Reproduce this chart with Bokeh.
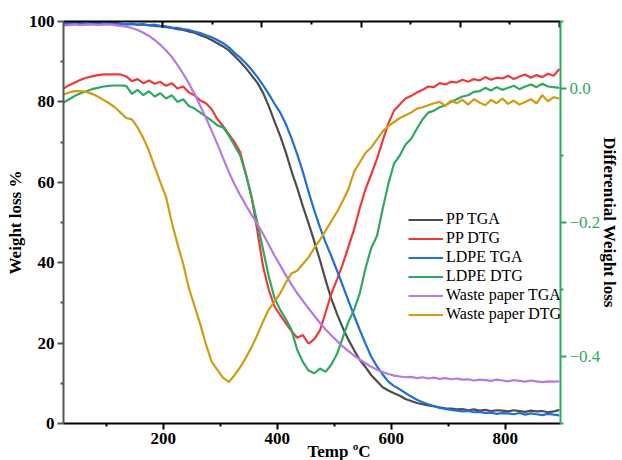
from bokeh.plotting import figure
from bokeh.models import Range1d, LinearAxis, FixedTicker, Legend, LegendItem, Title
from bokeh.embed import file_html
from bokeh.resources import INLINE

temps = list(range(25, 900, 10))

pp_tga = [99.5, 99.4, 99.6, 99.5, 99.3, 99.5, 99.6, 99.4, 99.5, 99.6,
          99.4, 99.3, 99.4, 99.2, 99.3, 99.0, 98.9, 98.8, 98.6, 98.4,
          98.1, 97.9, 97.5, 97.2, 96.6, 96.1, 95.4, 94.6, 93.8, 92.8,
          91.4, 90.0, 88.4, 86.6, 84.8, 82.3, 79.0, 75.2, 71.6, 67.5,
          62.8, 58.6, 54.0, 49.8, 45.3, 40.6, 35.6, 31.0, 27.2, 23.8,
          20.8, 18.2, 15.8, 14.0, 12.0, 10.5, 9.0, 8.2, 7.5, 6.9,
          6.1, 5.6, 5.1, 4.8, 4.5, 4.3, 4.0, 3.8, 3.7, 3.5,
          3.6, 3.3, 3.5, 3.2, 3.4, 3.1, 3.3, 3.2, 3.0, 3.3,
          3.1, 2.9, 3.2, 3.0, 3.1, 2.8, 3.0, 3.4]

ldpe_tga = [99.6, 99.5, 99.7, 99.6, 99.5, 99.7, 99.6, 99.5, 99.6, 99.4,
            99.5, 99.3, 99.4, 99.2, 99.3, 99.1, 99.2, 98.9, 98.8, 98.5,
            98.4, 98.1, 97.9, 97.5, 97.1, 96.6, 96.1, 95.4, 94.6, 93.6,
            92.2, 91.0, 89.6, 88.0, 86.2, 84.2, 82.0, 79.6, 77.4, 74.5,
            71.0, 67.0, 62.6, 57.6, 53.0, 48.8, 45.0, 41.6, 38.0, 34.3,
            30.5, 26.8, 23.2, 19.8, 16.6, 14.2, 12.2, 10.4, 9.3, 8.5,
            7.6, 6.7, 5.9, 5.3, 4.8, 4.3, 3.9, 3.6, 3.4, 3.2,
            3.0, 3.1, 2.8, 2.9, 2.6, 2.7, 2.4, 2.6, 2.5, 2.3,
            2.6, 2.2, 2.5, 2.3, 2.1, 2.4, 2.2, 2.0]

paper_tga = [99.0, 99.1, 99.3, 99.1, 99.2, 99.3, 99.1, 99.2, 99.3, 99.1,
             98.9, 98.7, 98.4, 97.9, 97.2, 96.4, 95.4, 94.2, 92.8, 91.2,
             89.2, 87.0, 84.6, 82.0, 79.0, 76.0, 72.8, 69.5, 66.0, 62.6,
             59.5, 56.8, 54.3, 51.9, 49.6, 47.2, 44.5, 41.8, 39.4, 36.9,
             34.6, 32.4, 30.5, 28.6, 26.8, 25.0, 23.4, 21.9, 20.5, 19.2,
             18.0, 16.9, 15.9, 15.0, 14.1, 13.4, 12.8, 12.3, 11.9, 11.7,
             11.5, 11.6, 11.3, 11.5, 11.2, 11.4, 11.1, 11.3, 11.0, 11.2,
             10.9, 11.0, 10.7, 10.9, 10.8, 10.6, 10.9, 10.7, 10.5, 10.8,
             10.6, 10.4, 10.7, 10.5, 10.3, 10.5, 10.4, 10.5]

pp_dtg = [0.000, 0.005, 0.009, 0.013, 0.016, 0.018, 0.020, 0.021, 0.021, 0.021,
          0.021, 0.018, 0.011, 0.014, 0.008, 0.012, 0.007, 0.010, 0.004, 0.008,
          0.000, 0.003, -0.006, -0.010, -0.018, -0.022, -0.031, -0.046, -0.056, -0.068,
          -0.080, -0.095, -0.128, -0.162, -0.212, -0.265, -0.300, -0.325, -0.338, -0.350,
          -0.362, -0.372, -0.368, -0.381, -0.374, -0.361, -0.334, -0.306, -0.285, -0.262,
          -0.236, -0.210, -0.178, -0.150, -0.128, -0.105, -0.078, -0.052, -0.033, -0.024,
          -0.015, -0.011, -0.006, -0.002, 0.003, 0.002, 0.008, 0.006, 0.010, 0.009,
          0.013, 0.010, 0.014, 0.012, 0.017, 0.013, 0.016, 0.015, 0.019, 0.014,
          0.018, 0.021, 0.016, 0.020, 0.017, 0.022, 0.019, 0.029]

ldpe_dtg = [-0.021, -0.016, -0.011, -0.007, -0.004, -0.001, 0.001, 0.003, 0.004, 0.0045,
            0.0045, 0.004, -0.008, -0.002, -0.010, -0.004, -0.012, -0.007, -0.015, -0.010,
            -0.020, -0.016, -0.026, -0.030, -0.036, -0.042, -0.048, -0.055, -0.058, -0.070,
            -0.085, -0.100, -0.128, -0.162, -0.200, -0.240, -0.280, -0.312, -0.330, -0.344,
            -0.360, -0.390, -0.408, -0.421, -0.425, -0.418, -0.423, -0.412, -0.396, -0.372,
            -0.348, -0.330, -0.305, -0.268, -0.238, -0.220, -0.180, -0.142, -0.112, -0.100,
            -0.084, -0.075, -0.060, -0.046, -0.036, -0.033, -0.028, -0.025, -0.020, -0.016,
            -0.012, -0.010, -0.005, -0.004, 0.001, -0.003, 0.002, -0.002, 0.001, 0.004,
            -0.001, 0.003, 0.006, 0.002, 0.007, 0.003, 0.002, 0.001]

paper_dtg = [-0.009, -0.006, -0.004, -0.004, -0.005, -0.008, -0.012, -0.017, -0.022, -0.028,
             -0.036, -0.044, -0.046, -0.058, -0.074, -0.093, -0.117, -0.140, -0.162, -0.200,
             -0.232, -0.262, -0.298, -0.325, -0.352, -0.382, -0.408, -0.420, -0.432, -0.438,
             -0.428, -0.416, -0.402, -0.386, -0.368, -0.348, -0.330, -0.318, -0.306, -0.290,
             -0.276, -0.272, -0.262, -0.252, -0.238, -0.226, -0.212, -0.198, -0.184, -0.168,
             -0.150, -0.124, -0.110, -0.096, -0.088, -0.076, -0.064, -0.056, -0.050, -0.044,
             -0.040, -0.036, -0.030, -0.028, -0.025, -0.022, -0.020, -0.026, -0.018, -0.022,
             -0.017, -0.024, -0.016, -0.021, -0.025, -0.017, -0.022, -0.015, -0.023, -0.018,
             -0.024, -0.020, -0.016, -0.022, -0.010, -0.019, -0.013, -0.015]

names = ["PP TGA", "PP DTG", "LDPE TGA", "LDPE DTG", "Waste paper TGA", "Waste paper DTG"]
colors = ["#4d4d4d", "#f0393c", "#1f6fdc", "#2fa862", "#b57ae6", "#d19c10"]
series = [pp_tga, pp_dtg, ldpe_tga, ldpe_dtg, paper_tga, paper_dtg]
on_dtg = [False, True, False, True, False, True]

x_ticks = [200, 400, 600, 800]
x_minor = [100, 300, 500, 700]
y_ticks = [0, 20, 40, 60, 80, 100]
y_minor = [10, 30, 50, 70, 90]
r_ticks = [-0.4, -0.2, 0.0]
r_minor = [-0.5, -0.3, -0.1, 0.1]
r_labels = {-0.4: "\u22120.4", -0.2: "\u22120.2", 0: "0.0"}

FONT = "Liberation Serif"
GREEN = "#2fa862"

p = figure(width=622, height=460, x_range=Range1d(25, 897), y_range=Range1d(0, 100),
           output_backend="svg", toolbar_location=None,
           min_border_left=63, min_border_top=21, min_border_right=10, min_border_bottom=37)
p.extra_y_ranges = {"dtg": Range1d(-0.5, 0.1)}
p.extra_x_ranges = {"top": Range1d(0, 501)}
p.grid.visible = False
p.outline_line_color = None

# bottom axis
xa = p.xaxis[0]
xa.ticker = FixedTicker(ticks=x_ticks, minor_ticks=x_minor)
xa.major_tick_out = 6
xa.major_tick_in = 0
xa.minor_tick_out = 3
xa.minor_tick_in = 0
xa.major_label_standoff = 3
xa.axis_line_width = 2
xa.axis_line_color = "black"
xa.major_tick_line_width = 2
xa.minor_tick_line_width = 2

# left axis
ya = p.yaxis[0]
ya.ticker = FixedTicker(ticks=y_ticks, minor_ticks=y_minor)
ya.axis_label = "Weight loss %"
ya.axis_label_standoff = 1
ya.major_label_standoff = 3
ya.major_tick_out = 6
ya.major_tick_in = 0
ya.minor_tick_out = 3
ya.minor_tick_in = 0
ya.axis_line_width = 2
ya.axis_line_color = "#555555"
ya.major_tick_line_color = "#555555"
ya.minor_tick_line_color = "#555555"
ya.major_tick_line_width = 2
ya.minor_tick_line_width = 2

for ax in [xa, ya]:
    ax.major_label_text_font = FONT
    ax.major_label_text_font_style = "bold"
    ax.major_label_text_font_size = "17px"
    ax.major_label_text_color = "black"
    ax.axis_label_text_font = FONT
    ax.axis_label_text_font_style = "bold"
    ax.axis_label_text_font_size = "17px"
    ax.axis_label_text_color = "black"

# right axis
ra = LinearAxis(y_range_name="dtg",
                ticker=FixedTicker(ticks=r_ticks, minor_ticks=r_minor),
                axis_label="Differential Weight loss")
ra.major_label_overrides = r_labels
ra.axis_line_color = GREEN
ra.axis_line_width = 2
ra.major_tick_line_color = GREEN
ra.minor_tick_line_color = GREEN
ra.major_tick_line_width = 2
ra.minor_tick_line_width = 2
ra.major_tick_out = 6
ra.major_tick_in = 0
ra.minor_tick_out = 3
ra.minor_tick_in = 0
ra.major_label_standoff = 3
ra.major_label_text_font = FONT
ra.major_label_text_font_size = "17px"
ra.major_label_text_color = GREEN
ra.axis_label_text_font = FONT
ra.axis_label_text_font_style = "bold"
ra.axis_label_text_font_size = "17px"
ra.axis_label_text_color = "black"
ra.axis_label_standoff = -3
p.add_layout(ra, "right")

# top axis (ticks only)
ta = LinearAxis(x_range_name="top",
                ticker=FixedTicker(ticks=[100, 200, 300, 400, 500], minor_ticks=[150, 250, 350, 450]))
ta.major_label_overrides = {100: "", 200: "", 300: "", 400: "", 500: ""}
ta.major_label_standoff = 0
ta.axis_line_width = 2
ta.axis_line_color = "black"
ta.major_tick_line_width = 2
ta.minor_tick_line_width = 2
ta.major_tick_in = 6
ta.major_tick_out = 0
ta.minor_tick_in = 3
ta.minor_tick_out = 0
p.add_layout(ta, "above")

# x axis title, set right of centre between the 400 and 600 tick labels as in the original
xt = Title(text="Temp ºC", align="left", offset=244, standoff=-13,
           text_font=FONT, text_font_size="17px", text_font_style="bold", text_color="black")
p.add_layout(xt, "below")

items = []
for name, col, ys, dtg in zip(names, colors, series, on_dtg):
    kw = {"y_range_name": "dtg"} if dtg else {}
    r = p.line(temps, ys, line_color=col, line_width=2.2, **kw)
    items.append(LegendItem(label=name, renderers=[r]))

legend = Legend(items=items, location=(345, 100))
legend.border_line_color = None
legend.background_fill_alpha = 0
legend.padding = 0
legend.margin = 0
legend.spacing = 1
legend.glyph_width = 35
legend.glyph_height = 17
legend.label_height = 17
legend.label_standoff = 3
legend.label_text_font = FONT
legend.label_text_font_size = "16px"
legend.label_text_color = "black"
p.add_layout(legend)

open("out.html", "w").write(file_html(p, INLINE))
